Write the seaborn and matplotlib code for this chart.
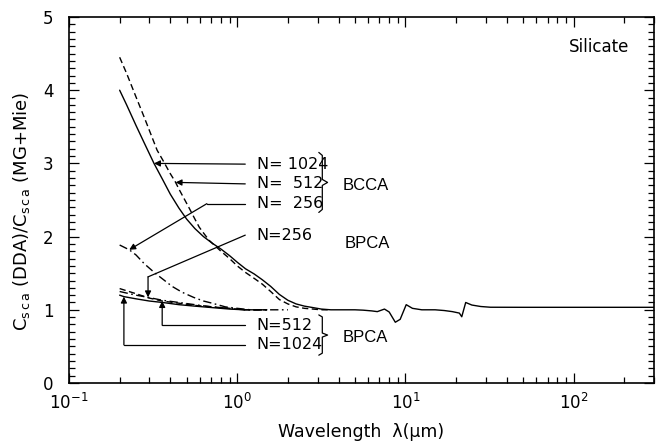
import numpy as np
import pandas as pd
import matplotlib
matplotlib.use("Agg")
import matplotlib.pyplot as plt
import matplotlib.ticker as mticker
import seaborn as sns

# ---- data: C_sca(DDA)/C_sca(MG+Mie) versus wavelength (micron), silicate ----
# BCCA, N=1024 (solid) -- carries the full long-wavelength tail
lam_bcca_1024 = [0.20, 0.22, 0.25, 0.28, 0.32, 0.36, 0.40, 0.45, 0.50, 0.56,
                 0.63, 0.71, 0.80, 0.90, 1.00, 1.12, 1.26, 1.41, 1.58, 1.78,
                 2.00, 2.24, 2.51, 2.82, 3.16, 3.6, 4.0, 4.5, 5.0, 5.6,
                 6.3, 6.8, 7.5, 8.0, 8.7, 9.3, 10.1, 11.0, 12.5, 15.0,
                 17.0, 19.0, 20.9, 21.6, 22.8, 24.8, 28.0, 32.0, 50.0, 100.0,
                 200.0, 300.0]
q_bcca_1024 = [4.00, 3.80, 3.52, 3.28, 3.00, 2.78, 2.58, 2.39, 2.24, 2.11,
               2.00, 1.91, 1.83, 1.74, 1.65, 1.56, 1.49, 1.41, 1.32, 1.21,
               1.13, 1.08, 1.05, 1.03, 1.01, 1.00, 1.00, 1.00, 1.00, 0.995,
               0.985, 0.975, 1.01, 0.97, 0.83, 0.87, 1.07, 1.02, 1.00, 1.00,
               0.99, 0.975, 0.955, 0.905, 1.10, 1.065, 1.045, 1.035, 1.034, 1.034,
               1.034, 1.034]

# BCCA, N=512 (dashed)
lam_bcca_512 = [0.20, 0.22, 0.25, 0.28, 0.334, 0.36, 0.40, 0.428, 0.45, 0.518,
                0.56, 0.594, 0.63, 0.68, 0.71, 0.80, 0.90, 1.00, 1.12, 1.26,
                1.41, 1.58, 1.78, 2.00, 2.24, 2.51, 2.82, 3.16, 3.6]
q_bcca_512 = [4.45, 4.23, 3.91, 3.63, 3.18, 3.05, 2.86, 2.75, 2.65, 2.39,
              2.24, 2.13, 2.05, 1.95, 1.91, 1.80, 1.70, 1.60, 1.51, 1.43,
              1.35, 1.25, 1.14, 1.08, 1.04, 1.02, 1.01, 1.00, 1.00]

# BCCA, N=256 (dash-dot)
lam_bcca_256 = [0.20, 0.228, 0.25, 0.28, 0.325, 0.37, 0.41, 0.47, 0.55, 0.63,
                0.71, 0.85, 1.00, 1.20, 1.50, 2.00]
q_bcca_256 = [1.885, 1.82, 1.75, 1.63, 1.50, 1.40, 1.32, 1.24, 1.17, 1.12,
              1.09, 1.04, 1.02, 1.00, 1.00, 1.00]

# BPCA, N=1024 (solid)
lam_bpca_1024 = [0.20, 0.212, 0.25, 0.30, 0.36, 0.45, 0.56, 0.71, 0.90, 1.10, 1.50]
q_bpca_1024 = [1.20, 1.18, 1.15, 1.12, 1.10, 1.07, 1.05, 1.03, 1.01, 1.00, 1.00]

# BPCA, N=512 (dashed)
lam_bpca_512 = [0.20, 0.25, 0.30, 0.358, 0.45, 0.56, 0.71, 0.90, 1.10, 1.50]
q_bpca_512 = [1.29, 1.22, 1.16, 1.12, 1.09, 1.06, 1.04, 1.02, 1.00, 1.00]

# BPCA, N=256 (dash-dot)
lam_bpca_256 = [0.20, 0.25, 0.295, 0.36, 0.45, 0.56, 0.71, 0.90, 1.10, 1.50]
q_bpca_256 = [1.25, 1.20, 1.17, 1.13, 1.10, 1.07, 1.04, 1.02, 1.00, 1.00]

y_ticks = [0, 1, 2, 3, 4, 5]

# ---- style ----
sns.set_style("ticks")
plt.rcParams["font.family"] = ["DejaVu Sans"]
plt.rcParams["mathtext.fontset"] = "dejavusans"
plt.rcParams["text.color"] = "black"
plt.rcParams["axes.labelcolor"] = "black"

fig = plt.figure(figsize=(6.61, 4.45), dpi=100)
ax = fig.add_axes([69 / 661, 1 - 383 / 445, 585 / 661, 366 / 445])

series = [
    (lam_bcca_1024, q_bcca_1024, "-"),
    (lam_bcca_512, q_bcca_512, (0, (4.5, 2.5))),
    (lam_bcca_256, q_bcca_256, (0, (6, 2.5, 1.2, 2.5))),
    (lam_bpca_1024, q_bpca_1024, "-"),
    (lam_bpca_512, q_bpca_512, (0, (4.5, 2.5))),
    (lam_bpca_256, q_bpca_256, (0, (6, 2.5, 1.2, 2.5))),
]
for lam, q, ls in series:
    df = pd.DataFrame({"lam": lam, "q": q})
    sns.lineplot(data=df, x="lam", y="q", ax=ax, color="black",
                 linewidth=1.0, linestyle=ls, sort=True, estimator=None)

ax.set_xscale("log")
ax.set_xlim(0.1, 300)
ax.set_ylim(0, 5)
ax.yaxis.set_major_locator(mticker.FixedLocator(y_ticks))
ax.yaxis.set_minor_locator(mticker.MultipleLocator(0.1))
ax.xaxis.set_major_locator(mticker.LogLocator(base=10))
ax.xaxis.set_minor_locator(mticker.LogLocator(base=10, subs=np.arange(2, 10)))
ax.xaxis.set_minor_formatter(mticker.NullFormatter())
ax.tick_params(which="both", direction="in", top=True, right=True,
               width=0.9, colors="black", labelsize=12)
ax.tick_params(which="major", length=7)
ax.tick_params(which="minor", length=4)
ax.tick_params(axis="x", which="major", pad=7)
ax.tick_params(axis="y", which="major", pad=11)
for sp in ax.spines.values():
    sp.set_linewidth(1.2)
    sp.set_color("black")
ax.set_xlabel("Wavelength  λ(μm)", fontsize=12.5, labelpad=7)
ax.set_ylabel(r"C$_{\rm s\,c\,a}$ (DDA)/C$_{\rm s\,c\,a}$ (MG+Mie)",
              fontsize=13)
ax.yaxis.set_label_coords(-0.064, 0.47)

ax.text(0.855, 0.905, "Silicate", transform=ax.transAxes, fontsize=12)

# ---- annotation arrows (tips placed on the curves) ----
def on_curve(lam, q, x):
    return float(np.interp(np.log10(x), np.log10(lam), q))

arrow_kw = dict(arrowstyle="-|>", color="black", lw=0.9,
                shrinkA=0, shrinkB=0, mutation_scale=9)
x_start = 1.116

def arrow(path, tip):
    xs = [p[0] for p in path]
    ys = [p[1] for p in path]
    if len(path) > 1:
        ax.plot(xs, ys, color="black", lw=0.9)
    ax.annotate("", xy=tip, xytext=path[-1], arrowprops=arrow_kw)

t = 0.32
arrow([(x_start, 2.99)], (t, on_curve(lam_bcca_1024, q_bcca_1024, t)))
t = 0.43
arrow([(x_start, 2.72)], (t, on_curve(lam_bcca_512, q_bcca_512, t)))
t = 0.228
arrow([(x_start, 2.45), (0.66, 2.45)], (t, on_curve(lam_bcca_256, q_bcca_256, t)))
t = 0.295
arrow([(x_start, 2.02), (t, 1.45)], (t, on_curve(lam_bpca_256, q_bpca_256, t)))
t = 0.358
arrow([(x_start, 0.79), (t, 0.79)], (t, on_curve(lam_bpca_512, q_bpca_512, t)))
t = 0.212
arrow([(x_start, 0.52), (t, 0.52)], (t, on_curve(lam_bpca_1024, q_bpca_1024, t)))

# ---- group labels and braces ----
tr = ax.get_yaxis_transform()
n_kw = dict(transform=tr, fontsize=11.5, va="center", ha="left")
g_kw = dict(transform=tr, fontsize=12, va="center", ha="left",
            family=["Liberation Sans", "DejaVu Sans"])
ax.text(0.321, 2.99, "N= 1024", **n_kw)
ax.text(0.321, 2.72, "N=  512", **n_kw)
ax.text(0.321, 2.45, "N=  256", **n_kw)
ax.text(0.468, 2.70, "BCCA", **g_kw)
ax.text(0.321, 2.02, "N=256", **n_kw)
ax.text(0.472, 1.905, "BPCA", **g_kw)
ax.text(0.321, 0.79, "N=512", **n_kw)
ax.text(0.321, 0.52, "N=1024", **n_kw)
ax.text(0.468, 0.62, "BPCA", **g_kw)

def brace(x, top, bot):
    mid = 0.5 * (top + bot)
    h = 0.05 * (top - bot)
    xs = [x - 0.006, x, x, x + 0.009, x, x, x - 0.006]
    ys = [top, top - h, mid + h, mid, mid - h, bot + h, bot]
    ax.plot(xs, ys, color="black", lw=0.9, transform=tr)

brace(0.433, 3.15, 2.33)
brace(0.433, 0.93, 0.38)

fig.savefig("out.png", dpi=100)
